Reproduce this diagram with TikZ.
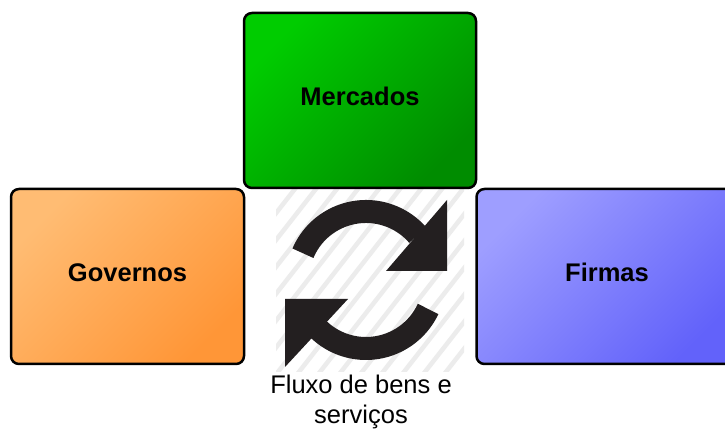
\documentclass[tikz,border=0pt]{standalone}
\usepackage{fontspec}
\setmainfont{Liberation Sans}
\usetikzlibrary{positioning}

\definecolor{merctop}{RGB}{0,204,0}
\definecolor{mercbot}{RGB}{0,140,0}
\definecolor{govtop}{RGB}{255,188,115}
\definecolor{govbot}{RGB}{255,150,55}
\definecolor{firmtop}{RGB}{158,158,255}
\definecolor{firmbot}{RGB}{98,98,250}
\definecolor{iconblack}{RGB}{35,31,32}

\begin{document}
\begin{tikzpicture}[x=1pt,y=1pt,line join=round]
	\tikzstyle{sector}=[draw=black,line width=2.5pt,rounded corners=8pt,minimum height=175pt,inner sep=0pt,text height=18pt,text depth=8pt,font=\bfseries\fontsize{25.5}{30}\selectfont]
	\tikzstyle{cycle}=[draw=iconblack,line width=23pt]
	\tikzstyle{hatch}=[draw=gray!15,line width=4.5pt]

	\useasboundingbox (0,0) rectangle (725,430);
	\fill[white] (0,0) rectangle (725,430);

	% striped ground behind the icon
	\begin{scope}
		\clip (276,58) rectangle (464,240);
		\foreach \i in {-11,...,11}
			\draw[hatch] (370+\i*21,149) ++(232:160) -- ++(52:320);
	\end{scope}

	\node[sector,minimum width=232pt,top color=merctop,bottom color=mercbot,shading angle=45] (merc) at (360,329.5) {Mercados};
	\node[sector,minimum width=233pt,top color=govtop,bottom color=govbot,shading angle=45] (gov) [below left=-1.5pt and -2.5pt of merc.south west] {Governos};
	\node[sector,minimum width=261pt,top color=firmtop,bottom color=firmbot,shading angle=45] (firm) [below right=-1.5pt and -2pt of merc.south east] {Firmas};

	% the two arrows of the flow
	\coordinate (c) at (366,150);
	\draw[cycle] ([shift={(157:68.5)}]c) arc[start angle=157,end angle=41,radius=68.5];
	\fill[iconblack] ([shift={(20,9)}]c) -- ([shift={(81,80)}]c) -- ([shift={(81,9)}]c) -- cycle;
	\draw[cycle] ([shift={(-25:68.5)}]c) arc[start angle=-25,end angle=-137,radius=68.5];
	\fill[iconblack] ([shift={(-18,-19)}]c) -- ([shift={(-81,-87)}]c) -- ([shift={(-81,-19)}]c) -- cycle;

	\node[align=center,inner sep=0pt,anchor=north,font=\fontsize{25.5}{30}\selectfont] (flow) at (361,55) {Fluxo de bens e\\serviços};
\end{tikzpicture}
\end{document}
